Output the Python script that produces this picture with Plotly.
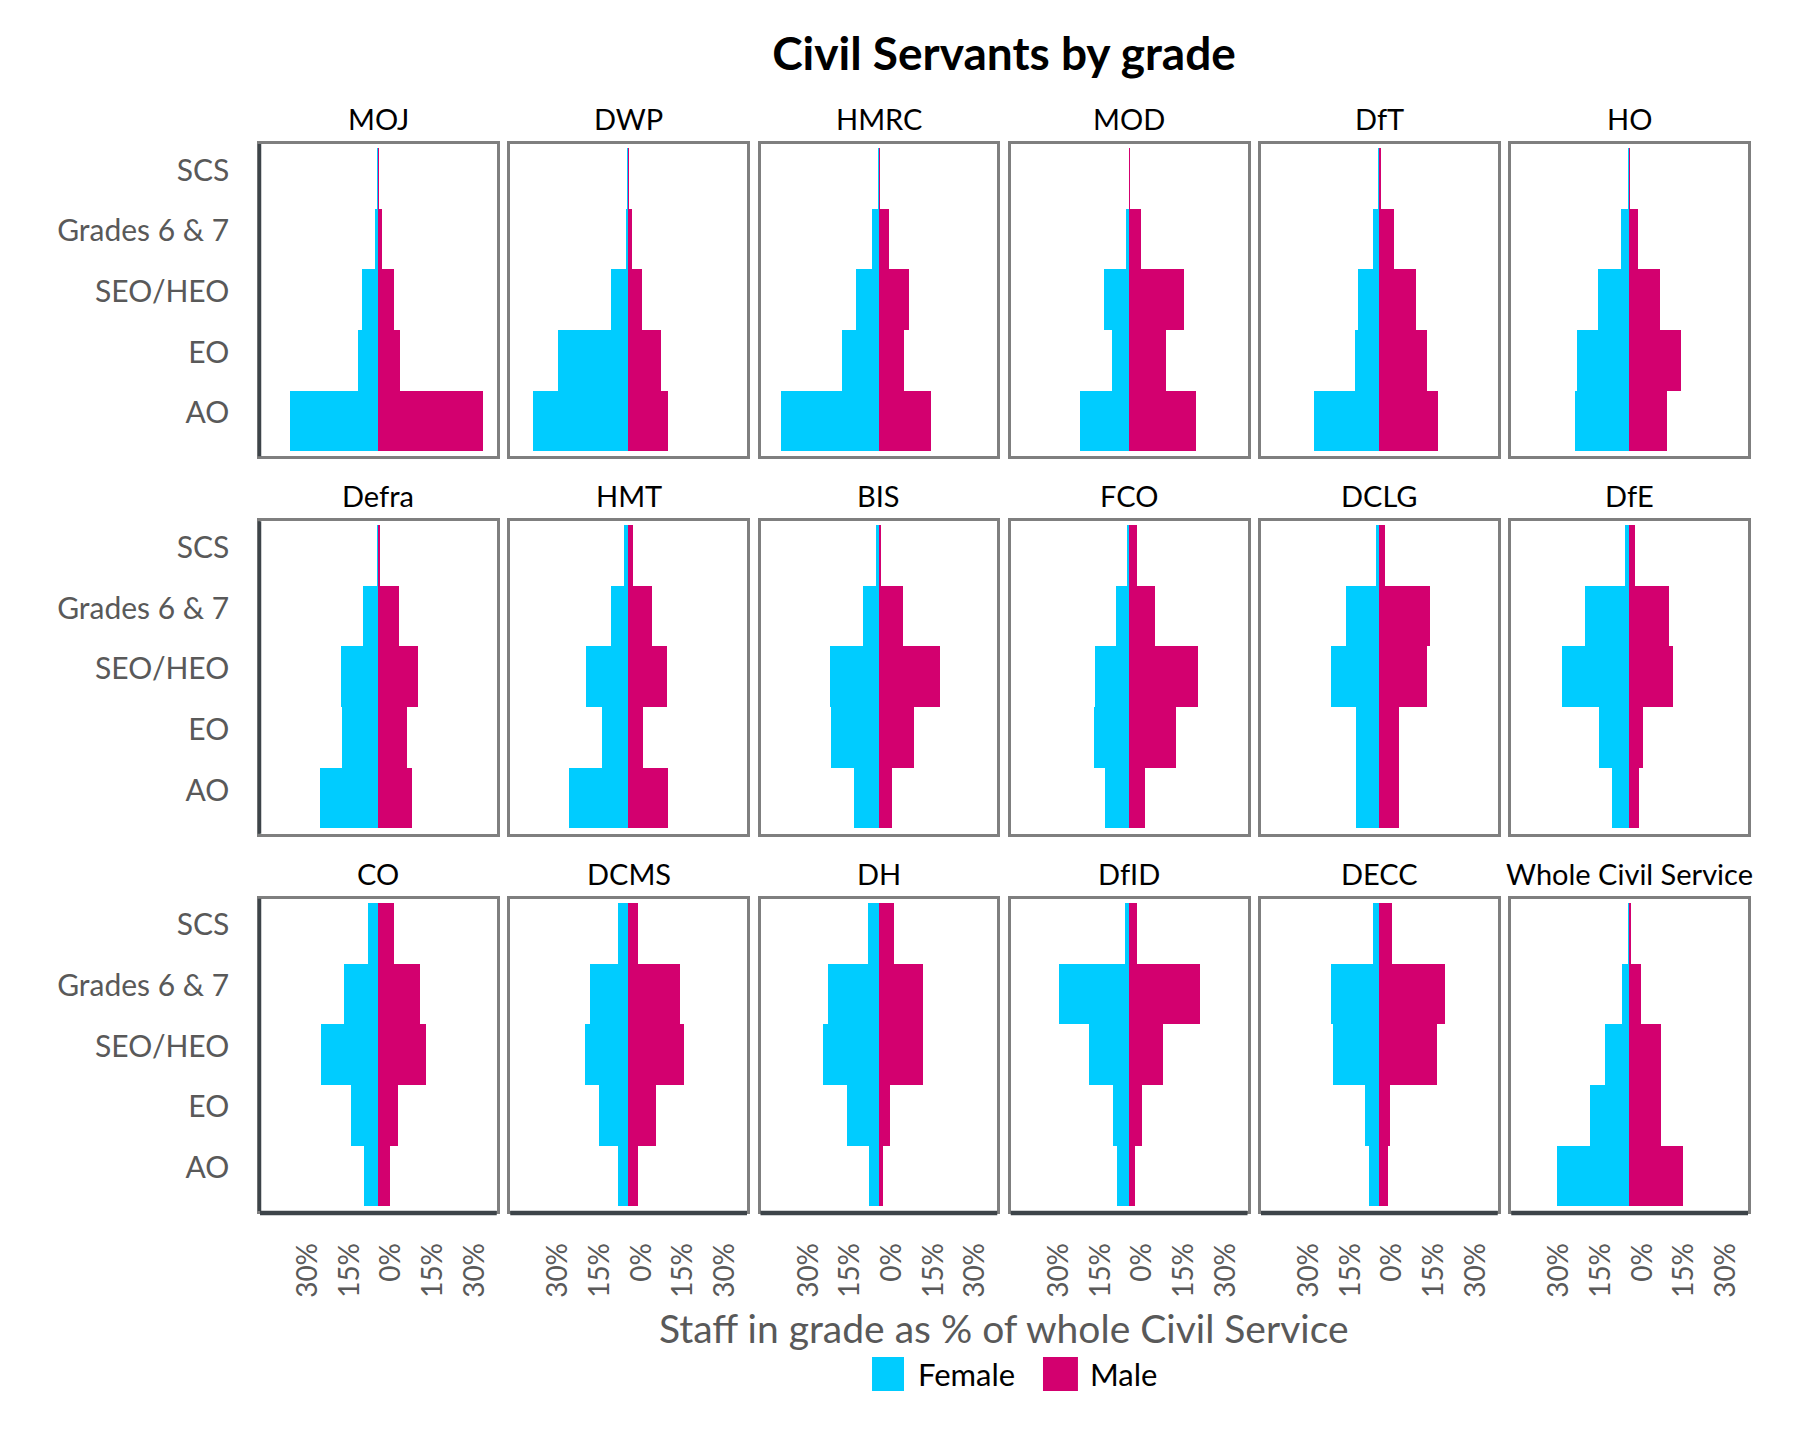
import plotly.graph_objects as go
from plotly.subplots import make_subplots

departments = ['MOJ', 'DWP', 'HMRC', 'MOD', 'DfT', 'HO',
               'Defra', 'HMT', 'BIS', 'FCO', 'DCLG', 'DfE',
               'CO', 'DCMS', 'DH', 'DfID', 'DECC', 'Whole Civil Service']
grades = ['SCS', 'Grades 6 & 7', 'SEO/HEO', 'EO', 'AO']

# % of each department's staff, grades in the order above (SCS .. AO)
female_pct = [
    [0.25, 1.3, 6.0, 7.4, 31.9],    # MOJ
    [0.2, 1.0, 6.2, 25.4, 34.4],    # DWP
    [0.2, 2.5, 8.3, 13.3, 35.4],    # HMRC
    [0.1, 1.3, 9.2, 6.1, 17.8],     # MOD
    [0.3, 2.2, 7.7, 8.6, 23.7],     # DfT
    [0.2, 2.9, 11.2, 18.9, 19.5],   # HO
    [0.2, 5.5, 13.5, 13.1, 21.1],   # Defra
    [1.4, 6.2, 15.4, 9.6, 21.3],    # HMT
    [1.1, 6.0, 17.9, 17.4, 9.2],    # BIS
    [0.8, 4.8, 12.3, 12.9, 8.9],    # FCO
    [1.2, 11.9, 17.3, 8.3, 8.5],    # DCLG
    [1.7, 15.8, 24.3, 10.8, 6.4],   # DfE
    [3.6, 12.4, 20.5, 9.8, 5.2],    # CO
    [3.6, 13.8, 15.5, 10.5, 3.6],   # DCMS
    [4.0, 18.6, 20.3, 11.5, 3.6],   # DH
    [1.7, 25.3, 14.6, 5.8, 4.4],    # DfID
    [2.4, 17.4, 16.7, 5.2, 3.8],    # DECC
    [0.3, 2.8, 8.7, 14.3, 26.2],    # Whole Civil Service
]
male_pct = [
    [0.05, 1.4, 5.8, 7.7, 37.5],
    [0.05, 1.4, 4.8, 11.6, 14.1],
    [0.2, 3.3, 10.5, 9.0, 18.4],
    [0.2, 4.2, 19.5, 13.2, 23.9],
    [0.3, 5.1, 13.2, 17.1, 21.1],
    [0.2, 3.1, 11.0, 18.7, 13.6],
    [0.6, 7.6, 14.4, 10.3, 12.2],
    [1.8, 8.5, 14.0, 5.3, 14.4],
    [0.7, 8.5, 21.8, 12.4, 4.6],
    [2.9, 9.1, 24.7, 16.8, 5.8],
    [2.1, 18.3, 17.3, 7.1, 6.9],
    [1.9, 14.1, 15.8, 5.0, 3.3],
    [5.7, 14.8, 17.0, 7.2, 4.3],
    [3.3, 18.4, 20.1, 10.0, 3.3],
    [5.3, 15.8, 15.8, 4.0, 1.4],
    [2.8, 25.5, 12.2, 4.7, 2.1],
    [4.4, 23.5, 20.6, 3.7, 3.0],
    [0.3, 4.2, 11.2, 11.2, 19.2],
]

tick_vals = [-30, -15, 0, 15, 30]
tick_text = ['30%', '15%', '0%', '15%', '30%']

FEMALE = '#00CCFF'
MALE = '#D3006F'
FRAME = '#7f7f7f'
DARK = '#3d4449'
GREY_TEXT = '#595959'
FONT = 'Lato'

n_cols = 6
fig = make_subplots(rows=3, cols=n_cols, subplot_titles=departments,
                    horizontal_spacing=13.5 / 1488, vertical_spacing=65 / 1067)

for i, dept in enumerate(departments):
    r, c = i // n_cols + 1, i % n_cols + 1
    fig.add_trace(go.Bar(
        y=grades, x=[-v for v in female_pct[i]], orientation='h',
        name='Female', marker=dict(color=FEMALE, line=dict(width=0)),
        customdata=female_pct[i], showlegend=False,
        hovertemplate=dept + '<br>%{y}: %{customdata}%<extra>Female</extra>'
    ), row=r, col=c)
    fig.add_trace(go.Bar(
        y=grades, x=male_pct[i], orientation='h',
        name='Male', marker=dict(color=MALE, line=dict(width=0)),
        showlegend=False,
        hovertemplate=dept + '<br>%{y}: %{x}%<extra>Male</extra>'
    ), row=r, col=c)

fig.update_xaxes(
    range=[-42.6, 42.6], tickvals=tick_vals, ticktext=tick_text,
    showticklabels=False, showgrid=False, zeroline=False, ticks='',
    showline=True, mirror=True, linecolor=FRAME, linewidth=2.5
)
fig.update_xaxes(
    showticklabels=True, tickangle=-90,
    tickfont=dict(family=FONT, size=28, color=GREY_TEXT),
    ticklabelstandoff=18, ticklabelshift=13, row=3
)
fig.update_yaxes(
    type='category', categoryorder='array', categoryarray=grades[::-1],
    range=[-0.583, 4.566], showticklabels=False, showgrid=False, ticks='',
    showline=True, mirror=True, linecolor=FRAME, linewidth=2.5
)
fig.update_yaxes(
    showticklabels=True, tickfont=dict(family=FONT, size=30, color=GREY_TEXT),
    ticklabelstandoff=22, ticklabelshift=-8, col=1
)

for ann in fig.layout.annotations:
    ann.font = dict(family=FONT, size=29, color='black')
    ann.yshift = 6

# dark axis lines: left of first column, bottom of last row
for i in range(len(departments)):
    r, c = i // n_cols + 1, i % n_cols + 1
    n = '' if i == 0 else str(i + 1)
    if c == 1:
        fig.add_shape(type='line', xref=f'x{n} domain', yref=f'y{n} domain',
                      xsizemode='pixel', xanchor=0, x0=-0.5, x1=-0.5, y0=0, y1=1,
                      line=dict(color=DARK, width=3.5))
    if r == 3:
        fig.add_shape(type='line', xref=f'x{n} domain', yref=f'y{n} domain',
                      ysizemode='pixel', yanchor=0, y0=-2, y1=-2, x0=0, x1=1,
                      line=dict(color=DARK, width=4.5))

fig.add_annotation(
    text='Staff in grade as % of whole Civil Service', xref='paper', yref='paper',
    x=0.5, y=-0.1097, xanchor='center', yanchor='middle', showarrow=False,
    font=dict(family=FONT, size=39, color=GREY_TEXT)
)

# legend
legend_items = [('Female', FEMALE, 0.4113, 0.4328, 0.4407),
                ('Male', MALE, 0.5262, 0.5497, 0.5562)]
for label, colour, sx0, sx1, tx in legend_items:
    fig.add_shape(type='rect', xref='paper', yref='paper', x0=sx0, x1=sx1,
                  y0=-0.1687, y1=-0.1368, fillcolor=colour, line=dict(width=0))
    fig.add_annotation(text=label, xref='paper', yref='paper', x=tx, y=-0.1528,
                       xanchor='left', yanchor='middle', showarrow=False,
                       font=dict(family=FONT, size=31, color='black'))

fig.update_layout(
    width=1791, height=1430,
    margin=dict(l=252, r=51, t=136, b=227),
    barmode='relative', bargap=0,
    showlegend=False,
    paper_bgcolor='white', plot_bgcolor='white',
    title=dict(text='Civil Servants by grade', x=0.5, xref='paper',
               xanchor='center', y=1 - 46 / 1430, yanchor='middle',
               font=dict(family=FONT, size=46, color='black', weight=700)),
    font=dict(family=FONT)
)

fig.write_html('out.html')
